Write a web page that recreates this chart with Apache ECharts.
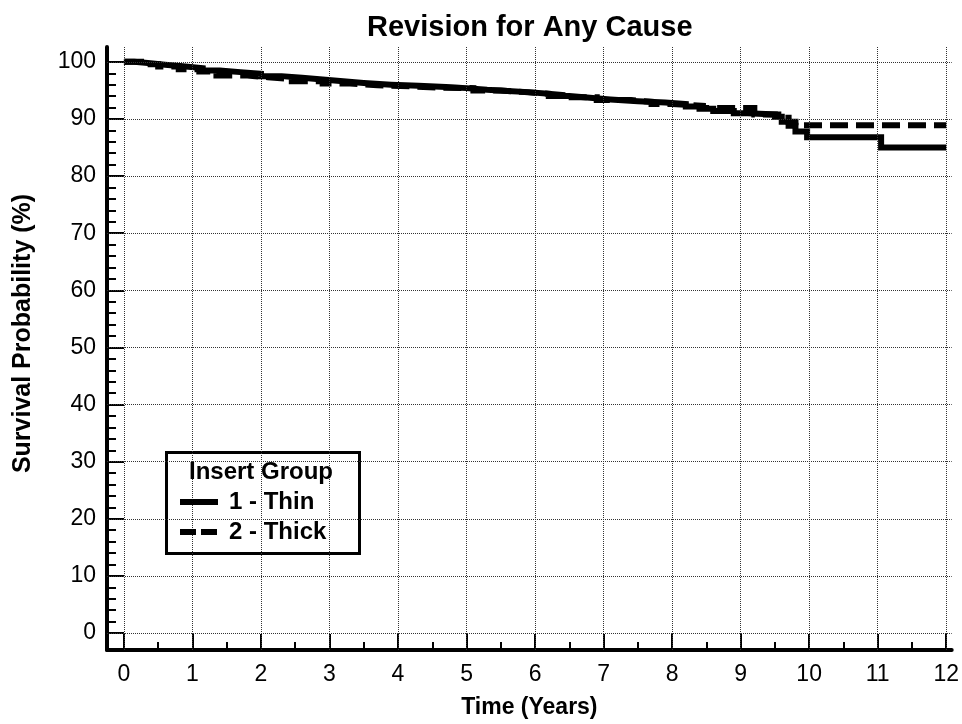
<!DOCTYPE html>
<html>
<head>
<meta charset="utf-8">
<script src="https://cdn.jsdelivr.net/npm/echarts@6/dist/echarts.min.js"></script>
<style>html,body{margin:0;padding:0;background:#fff;}#main{width:962px;height:724px;}</style>
</head>
<body>
<div id="main"></div>
<script>
// ---- data (years, survival %) ----
const timeThin  = [0, 0.15, 0.35, 0.6, 0.9, 1.15, 1.4, 1.7, 2.0, 2.3, 2.6, 2.9, 3.2, 3.5, 3.9, 4.3, 4.7, 5.0, 5.3, 5.6, 5.9, 6.2, 6.5, 6.8, 7.1, 7.5, 7.9, 8.2, 8.4, 8.6, 8.9, 9.1, 9.5, 9.6, 9.7, 9.8, 9.97, 11.05, 12];
const survThin  = [100, 99.8, 99.5, 99.2, 98.9, 98.5, 98.2, 97.9, 97.5, 97.2, 96.9, 96.6, 96.3, 96.0, 95.8, 95.6, 95.4, 95.1, 94.9, 94.7, 94.4, 94.0, 93.7, 93.4, 93.1, 92.9, 92.6, 92.2, 91.8, 91.4, 91.0, 90.8, 90.4, 89.5, 88.8, 87.8, 86.8, 85.0, 85.0];
const timeThick = [0, 0.25, 0.5, 0.8, 1.1, 1.35, 1.8, 2.1, 2.45, 2.9, 3.3, 3.7, 4.2, 4.6, 5.1, 5.5, 5.85, 6.1, 6.4, 6.9, 7.4, 7.7, 8.0, 8.45, 9.2, 9.55, 9.7, 9.8, 12];
const survThick = [100, 99.6, 99.2, 98.7, 98.3, 97.6, 97.3, 97.0, 96.6, 96.2, 95.9, 95.7, 95.5, 95.4, 95.0, 94.7, 94.5, 94.2, 93.8, 93.3, 93.0, 92.6, 92.3, 91.9, 90.8, 90.2, 89.5, 88.9, 88.9];
const seriesNames = ['1 - Thin', '2 - Thick'];
const xMajorTicks = [0,1,2,3,4,5,6,7,8,9,10,11,12];
const xMinorTicks = [0.5,1.5,2.5,3.5,4.5,5.5,6.5,7.5,8.5,9.5,10.5,11.5];
const yMajorTicks = [0,10,20,30,40,50,60,70,80,90,100];
const yMinorTicks = [2,4,6,8,12,14,16,18,22,24,26,28,32,34,36,38,42,44,46,48,52,54,56,58,62,64,66,68,72,74,76,78,82,84,86,88,92,94,96,98];

const pairs = (t, v) => t.map((x, i) => [x, v[i]]);
const FONT = 'Liberation Sans, Arial, sans-serif';
const X_MIN = -0.247, X_MAX = 12.08, Y_MIN = -2.97, Y_MAX = 102.6;

const chart = echarts.init(document.getElementById('main'), null, {renderer: 'canvas'});
const gridLine = {color: '#333', width: 1, type: [1, 1]};

const option = {
  backgroundColor: '#fff',
  animation: false,
  title: {
    text: 'Revision for Any Cause',
    left: 362, top: 8,
    textStyle: {fontFamily: FONT, fontWeight: 'bold', fontSize: 29, color: '#000'}
  },
  grid: {left: 107, right: 6, top: 47, bottom: 72, containLabel: false},
  xAxis: [
    {
      type: 'value', position: 'bottom', min: X_MIN, max: X_MAX,
      name: 'Time (Years)', nameLocation: 'middle', nameGap: 46,
      nameTextStyle: {fontFamily: FONT, fontWeight: 'bold', fontSize: 23, color: '#000'},
      axisLine: {show: true, onZero: false, lineStyle: {color: '#000', width: 4}},
      axisTick: {show: true, inside: true, length: 16, customValues: xMajorTicks, lineStyle: {color: '#000', width: 2}},
      axisLabel: {show: true, customValues: xMajorTicks, margin: 13, fontFamily: FONT, fontSize: 23, color: '#000'},
      splitLine: {show: false}
    },
    {
      type: 'value', position: 'bottom', min: X_MIN, max: X_MAX,
      axisLine: {show: false, onZero: false},
      axisTick: {show: true, inside: true, length: 8, customValues: xMinorTicks, lineStyle: {color: '#000', width: 2}},
      axisLabel: {show: false},
      splitLine: {show: false}
    }
  ],
  yAxis: [
    {
      type: 'value', position: 'left', min: Y_MIN, max: Y_MAX,
      name: 'Survival Probability (%)', nameLocation: 'middle', nameGap: 71,
      nameTextStyle: {fontFamily: FONT, fontWeight: 'bold', fontSize: 25, color: '#000', padding: [0, 0, 0, 30]},
      axisLine: {show: true, onZero: false, lineStyle: {color: '#000', width: 4}},
      axisTick: {show: true, inside: true, length: 17, customValues: yMajorTicks, lineStyle: {color: '#000', width: 2}},
      axisLabel: {show: true, customValues: yMajorTicks, margin: 11, fontFamily: FONT, fontSize: 23, color: '#000'},
      splitLine: {show: false}
    },
    {
      type: 'value', position: 'left', min: Y_MIN, max: Y_MAX,
      axisLine: {show: false, onZero: false},
      axisTick: {show: true, inside: true, length: 9, customValues: yMinorTicks, lineStyle: {color: '#000', width: 2}},
      axisLabel: {show: false},
      splitLine: {show: false}
    }
  ],
  legend: {
    data: [
      {name: seriesNames[0], lineStyle: {type: 'solid', width: 6, color: '#000'}},
      {name: seriesNames[1], lineStyle: {type: [16, 5], width: 6, color: '#000'}}
    ],
    orient: 'vertical',
    left: 177, top: 490,
    padding: 0,
    itemWidth: 38, itemHeight: 22, itemGap: 6,
    z: 6,
    itemStyle: {opacity: 0, color: 'transparent', borderWidth: 0},
    lineStyle: {width: 6},
    textStyle: {fontFamily: FONT, fontWeight: 'bold', fontSize: 24, color: '#000', padding: [0, 0, 0, 6]}
  },
  graphic: [
    {
      type: 'rect', left: 165, top: 451, z: 5,
      shape: {width: 193, height: 101},
      style: {fill: '#fff', stroke: '#000', lineWidth: 3}
    },
    {
      type: 'text', left: 189, top: 460, z: 6,
      style: {text: 'Insert Group', fill: '#000', font: 'bold 24px ' + FONT}
    }
  ],
  series: [
    {
      name: '_grid', type: 'line', data: [], z: 1, silent: true,
      xAxisIndex: 0, yAxisIndex: 0,
      markLine: {
        silent: true, symbol: 'none', animation: false,
        label: {show: false},
        lineStyle: gridLine,
        data: xMajorTicks.map(v => ({xAxis: v})).concat(yMajorTicks.map(v => ({yAxis: v})))
      }
    },
    {
      name: seriesNames[0], type: 'line', step: 'end', z: 3,
      xAxisIndex: 0, yAxisIndex: 0,
      symbol: 'none', showSymbol: false,
      data: pairs(timeThin, survThin),
      lineStyle: {color: '#000', width: 6, type: 'solid', cap: 'butt', join: 'miter'},
      itemStyle: {color: '#000'}
    },
    {
      name: seriesNames[1], type: 'line', step: 'end', z: 3,
      xAxisIndex: 0, yAxisIndex: 0,
      symbol: 'none', showSymbol: false,
      data: pairs(timeThick, survThick),
      lineStyle: {color: '#000', width: 6, type: [18, 8], cap: 'butt', join: 'miter'},
      itemStyle: {color: '#000'}
    }
  ]
};
chart.setOption(option);
</script>
</body>
</html>
